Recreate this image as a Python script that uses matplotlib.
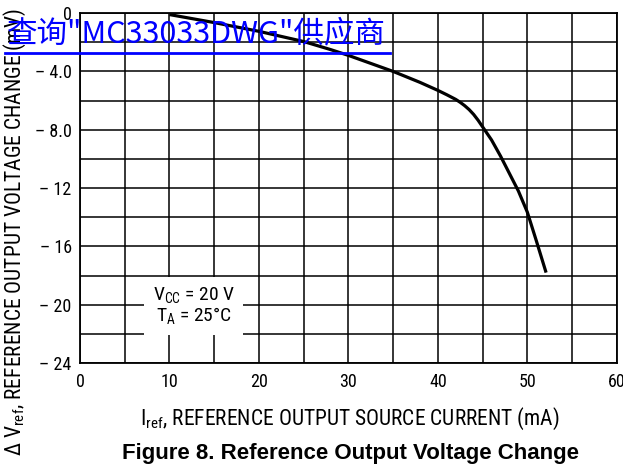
import matplotlib
matplotlib.use("Agg")
import matplotlib.pyplot as plt

# curve
i_ref = [10, 15, 20, 25, 28, 30, 35, 38, 40, 41, 42, 42.5, 43, 43.5, 44, 44.5, 45,
         46, 47, 48, 49, 50, 51, 52.1]
dv_ref = [-0.1, -0.65, -1.25, -1.95, -2.5, -2.9, -4.0, -4.75, -5.3, -5.6, -5.92, -6.12,
          -6.35, -6.62, -6.95, -7.35, -7.8, -8.7, -9.8, -11.0, -12.2, -13.65, -15.6, -17.8]

x_ticks = [0, 10, 20, 30, 40, 50, 60]
y_ticks = [0, -4, -8, -12, -16, -20, -24]
y_tick_labels = ["0", "\u2013 4.0", "\u2013 8.0", "\u2013 12", "\u2013 16", "\u2013 20", "\u2013 24"]

narrow = "Roboto Condensed"

fig = plt.figure(figsize=(6.23, 4.68), dpi=100)
ax = fig.add_axes([0.1284, 0.2244, 0.8616, 0.7476])

ax.plot(i_ref, dv_ref, color="black", linewidth=2.3, zorder=3,
        solid_capstyle="butt", solid_joinstyle="round")

ax.set_xlim(0, 60)
ax.set_ylim(-24, 0)
ax.set_xticks(x_ticks)
ax.set_xticks(range(0, 61, 5), minor=True)
ax.set_yticks(y_ticks)
ax.set_yticks(range(-24, 1, 2), minor=True)
ax.set_yticklabels(y_tick_labels)
ax.grid(which="both", color="black", linewidth=1.1)
ax.tick_params(which="both", length=0, labelsize=13, pad=7)
ax.tick_params(axis="y", pad=6)
for lab in ax.get_xticklabels() + ax.get_yticklabels():
    lab.set_fontfamily(narrow)
for sp in ax.spines.values():
    sp.set_linewidth(1.3)

ax.text(12.7, -20.1, "V$_{\\mathregular{CC}}$ = 20 V\nT$_{\\mathregular{A}}$ = 25\u00b0C",
        ha="center", va="center", fontsize=14, family=narrow, linespacing=0.95,
        bbox=dict(facecolor="white", edgecolor="none", pad=6), zorder=4)

fig.text(0.024, 0.505, "\u0394 V$_{\\mathregular{ref}}$, REFERENCE OUTPUT VOLTAGE CHANGE (mV)",
         rotation=90, ha="center", va="center", fontsize=15.5, family=narrow)
fig.text(0.562, 0.106, "I$_{\\mathregular{ref}}$, REFERENCE OUTPUT SOURCE CURRENT (mA)",
         ha="center", va="center", fontsize=15.5, family=narrow)
fig.text(0.562, 0.03, "Figure 8. Reference Output Voltage Change",
         ha="center", va="center", fontsize=16, family="Liberation Sans", weight="bold")

fig.text(0.011, 0.928, "\u67e5\u8be2\"MC33033DWG\"\u4f9b\u5e94\u5546",
         ha="left", va="center", fontsize=22, color="#0000ff",
         family=["Noto Sans CJK SC", "DejaVu Sans"], zorder=10)
fig.add_artist(plt.Line2D([0.008, 0.626], [0.887, 0.887], color="#0000ff",
                          linewidth=2, transform=fig.transFigure, zorder=10))

fig.savefig("out.png", dpi=100)
